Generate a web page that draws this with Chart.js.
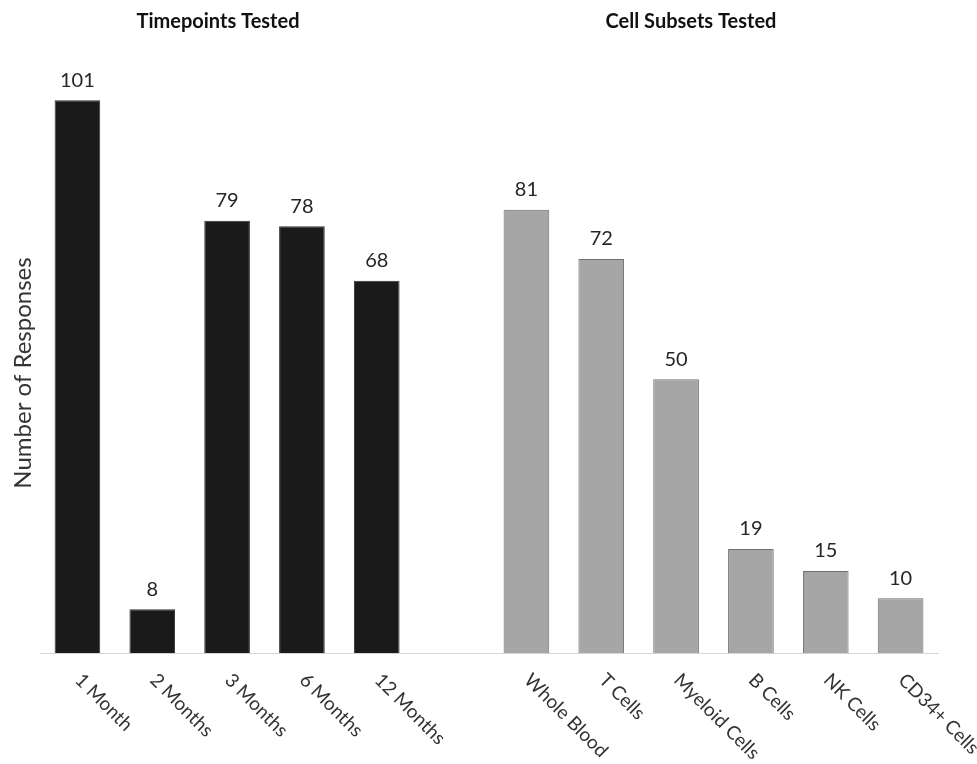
<!DOCTYPE html>
<html>
<head>
<meta charset="utf-8">
<script src="https://cdn.jsdelivr.net/npm/chart.js@4.4.1/dist/chart.umd.min.js"></script>
<style>
  html, body { margin: 0; padding: 0; background: #fff; }
  #wrap { width: 977px; height: 764px; }
</style>
</head>
<body>
<div id="wrap"><canvas id="chart"></canvas></div>
<script>
const timepointLabels = ['1 Month', '2 Months', '3 Months', '6 Months', '12 Months'];
const timepointValues = [101, 8, 79, 78, 68];
const cellLabels = ['Whole Blood', 'T Cells', 'Myeloid Cells', 'B Cells', 'NK Cells', 'CD34+ Cells'];
const cellValues = [81, 72, 50, 19, 15, 10];
const groupTitles = ['Timepoints Tested', 'Cell Subsets Tested'];
const yTitle = 'Number of Responses';

// one empty slot separates the two groups
const labels = [...timepointLabels, '', ...cellLabels];
const values = [...timepointValues, null, ...cellValues];
const fills = [...timepointLabels.map(() => '#1a1a1a'), 'transparent', ...cellLabels.map(() => '#a6a6a6')];
const borders = [...timepointLabels.map(() => '#333333'), 'transparent', ...cellLabels.map(() => '#6e6e6e')];

const FONT = 'Lato, "Open Sans", sans-serif';

const extras = {
    id: 'extras',
    afterDatasetsDraw(chart) {
        const ctx = chart.ctx;
        const meta = chart.getDatasetMeta(0);
        const xs = chart.scales.x;

        // value labels above bars
        ctx.save();
        ctx.fillStyle = '#262626';
        ctx.font = '20px ' + FONT;
        ctx.textAlign = 'center';
        ctx.textBaseline = 'bottom';
        meta.data.forEach((bar, i) => {
            if (values[i] == null) return;
            ctx.fillText(String(values[i]), bar.x, bar.y - 10);
        });
        ctx.restore();

        // rotated category labels
        ctx.save();
        ctx.fillStyle = '#333333';
        ctx.font = '19px ' + FONT;
        ctx.textAlign = 'left';
        ctx.textBaseline = 'middle';
        labels.forEach((lab, i) => {
            if (!lab) return;
            const x = xs.getPixelForTick(i);
            ctx.save();
            ctx.translate(x + 1, chart.chartArea.bottom + 24);
            ctx.rotate(Math.PI / 4);
            ctx.fillText(lab, 0, 0);
            ctx.restore();
        });
        ctx.restore();

        // y axis title
        ctx.save();
        ctx.fillStyle = '#333333';
        ctx.font = '24px ' + FONT;
        ctx.textAlign = 'center';
        ctx.textBaseline = 'middle';
        ctx.translate(23, 373);
        ctx.rotate(-Math.PI / 2);
        ctx.fillText(yTitle, 0, 0);
        ctx.restore();

        // group titles
        ctx.save();
        ctx.fillStyle = '#111111';
        ctx.font = 'bold 20px ' + FONT;
        ctx.textAlign = 'center';
        ctx.textBaseline = 'middle';
        ctx.fillText(groupTitles[0], 218, 22);
        ctx.fillText(groupTitles[1], 691, 22);
        ctx.restore();
    }
};

new Chart(document.getElementById('chart').getContext('2d'), {
    type: 'bar',
    data: {
        labels: labels,
        datasets: [{
            data: values,
            backgroundColor: fills,
            borderColor: borders,
            borderWidth: 1,
            categoryPercentage: 1.0,
            barPercentage: 0.61
        }]
    },
    options: {
        responsive: true,
        maintainAspectRatio: false,
        animation: false,
        layout: {
            padding: { left: 40, right: 39, top: 51, bottom: 111 }
        },
        plugins: {
            legend: { display: false },
            tooltip: { enabled: false }
        },
        scales: {
            x: {
                grid: { display: false, drawTicks: false },
                ticks: { display: false },
                border: { display: true, color: '#d4d4d4', dash: [1, 2], width: 1 }
            },
            y: {
                display: false,
                min: 0,
                max: 110
            }
        }
    },
    plugins: [extras]
});
</script>
</body>
</html>
